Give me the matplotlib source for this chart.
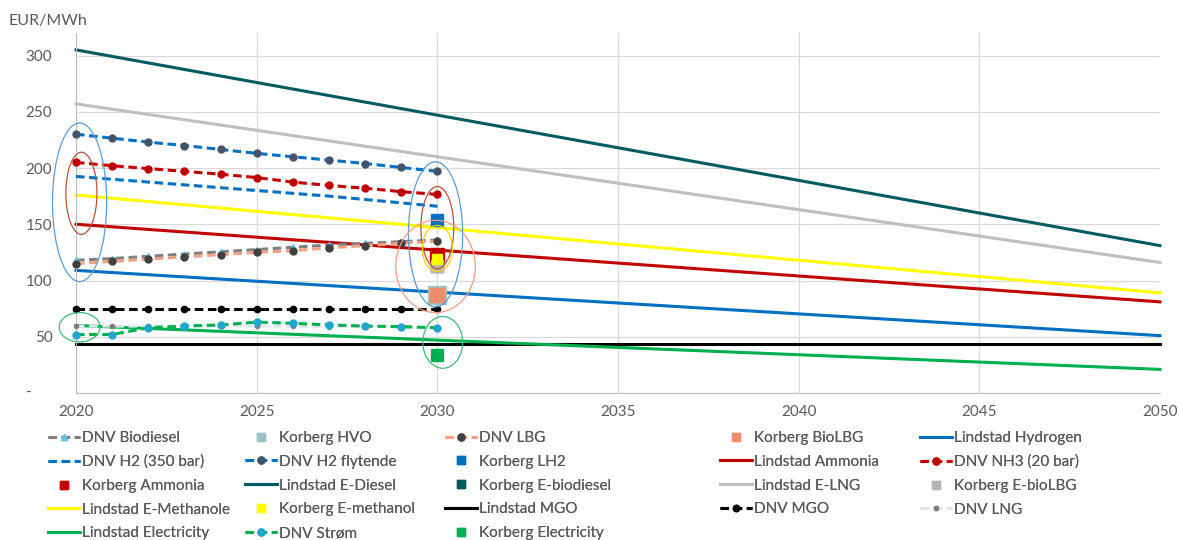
import matplotlib.pyplot as plt
from matplotlib.lines import Line2D
from matplotlib.patches import Ellipse

plt.rcParams['font.family'] = ['Lato', 'DejaVu Sans']

# DNV yearly series 2020-2030
dnv_years = [2020, 2021, 2022, 2023, 2024, 2025, 2026, 2027, 2028, 2029, 2030]
dnv_biodiesel = [118, 119.5, 121.5, 123.5, 125.5, 127.5, 129.5, 131.5, 133, 134.5, 136]
dnv_lbg = [115, 117, 119, 121, 123, 125, 126.5, 129, 131, 133, 135]
dnv_h2_350 = [192.5, 190, 187.5, 185, 182.5, 180, 177.5, 175, 172, 169, 166]
dnv_h2_fly = [230, 226.5, 223, 220, 216.5, 213, 210, 207, 204, 200.5, 197]
dnv_nh3 = [205, 202, 199.5, 197, 194.5, 191.5, 187.5, 184.5, 182, 179, 176.5]
dnv_mgo = [74.5, 74.5, 74.5, 74.5, 74.5, 74.5, 74.5, 74.5, 74.5, 74.5, 74.5]
dnv_lng = [59.5, 59.5, 59.5, 59.5, 59.5, 59.5, 59.5, 59, 59, 58.5, 58]
dnv_strom = [52, 52, 58, 59.5, 60.5, 63, 62, 60.5, 59.5, 59, 58]

# Lindstad trajectories 2020-2050
lind_years = [2020, 2050]
lind_hydrogen = [109, 51]
lind_ammonia = [150, 81]
lind_ediesel = [305, 131]
lind_elng = [257, 116]
lind_emethanole = [176, 89]
lind_mgo = [44, 44]
lind_electricity = [60, 21]

# Korberg single points in 2030
korb_year = 2030
korb_hvo = 87
korb_biolbg = 87
korb_lh2 = 154
korb_ammonia = 123
korb_ebiodiesel = 113
korb_ebiolbg = 113
korb_emethanol = 119.5
korb_electricity = 33.5

# hand drawn rings: (x, y, width, height, colour)
rings = [
    (2020.1, 169.5, 1.5, 141, '#5B9BD5'),
    (2020.15, 177.5, 0.86, 73, '#B5523B'),
    (2020.1, 58.5, 1.13, 26, '#3CB878'),
    (2029.95, 141, 1.5, 129, '#5B9BD5'),
    (2030.0, 147, 0.91, 73, '#B5523B'),
    (2029.95, 112.5, 2.2, 82, '#F19C82'),
    (2030.0, 128.5, 0.83, 41, '#F2D500'),
    (2030.15, 45, 1.1, 46, '#3CB878'),
]

TXT = '#595959'
FS = 11
fig = plt.figure(figsize=(11.79, 5.40), dpi=100)
ax = fig.add_axes([76 / 1179, 1 - 393 / 540, (1160 - 76) / 1179, (393 - 33) / 540])

H = {}
lw = 2.2
dash = (2.8, 1.5)


def dline(name, y, color, marker=None, mcolor=None, ms=5):
    h, = ax.plot(dnv_years, y, color=color, lw=lw, dashes=dash, marker=marker,
                 mfc=mcolor, mec=mcolor, ms=ms, clip_on=False, zorder=3)
    H[name] = h


def sline(name, y, color):
    h, = ax.plot(lind_years, y, color=color, lw=lw, clip_on=False, zorder=2)
    H[name] = h


def square(name, y, color, ms=9):
    ax.plot([korb_year], [y], ls='none', marker='s', ms=ms, color=color, zorder=5)
    H[name] = Line2D([], [], ls='none', marker='s', ms=6, color=color)


dline('DNV Biodiesel', dnv_biodiesel, '#7F7F7F', '^', '#5CC8E6', 4)
square('Korberg HVO', korb_hvo, '#9DC3C6', 12.5)
dline('DNV LBG', dnv_lbg, '#F4A084', 'o', '#404040', 5)
square('Korberg BioLBG', korb_biolbg, '#F08C6E', 10.5)
sline('Lindstad Hydrogen', lind_hydrogen, '#0070C0')
dline('DNV H2 (350 bar)', dnv_h2_350, '#0070C0')
dline('DNV H2 flytende', dnv_h2_fly, '#0070C0', 'o', '#44546A', 5)
square('Korberg LH2', korb_lh2, '#0070C0', 8.5)
sline('Lindstad Ammonia', lind_ammonia, '#C00000')
dline('DNV NH3 (20 bar)', dnv_nh3, '#C00000', 'o', '#C00000', 5)
square('Korberg Ammonia', korb_ammonia, '#C00000', 9.5)
sline('Lindstad E-Diesel', lind_ediesel, '#005A5E')
square('Korberg E-biodiesel', korb_ebiodiesel, '#005A5E', 8.5)
sline('Lindstad E-LNG', lind_elng, '#BFBFBF')
square('Korberg E-bioLBG', korb_ebiolbg, '#B4B4B4', 8.5)
sline('Lindstad E-Methanole', lind_emethanole, '#FFFF00')
square('Korberg E-methanol', korb_emethanol, '#FFFF00', 6.5)
sline('Lindstad MGO', lind_mgo, '#000000')
dline('DNV MGO', dnv_mgo, '#000000', 'o', '#000000', 4.5)
dline('DNV LNG', dnv_lng, '#DCE6EC', 'o', '#7F7F7F', 3)
sline('Lindstad Electricity', lind_electricity, '#00B050')
dline('DNV Strøm', dnv_strom, '#00B050', 'o', '#21A6CF', 5)
square('Korberg Electricity', korb_electricity, '#00B050', 8.5)

for x, y, w, h, c in rings:
    ax.add_patch(Ellipse((x, y), w, h, fill=False, ec=c, lw=0.9,
                         clip_on=False, zorder=6))

ax.set_xlim(2020, 2050)
ax.set_ylim(0, 320)
ax.set_xticks(range(2020, 2051, 5))
ax.set_yticks(range(0, 301, 50))
ax.set_yticklabels([''] + [str(v) for v in range(50, 301, 50)])
ax.text(-47 / 1084, 0, '-', transform=ax.get_yaxis_transform(), ha='center',
        va='center', color=TXT, fontsize=FS)
ax.tick_params(axis='both', length=0, labelcolor=TXT, labelsize=FS)
ax.tick_params(axis='y', pad=17)
ax.tick_params(axis='x', pad=9)
ax.grid(color='#D9D9D9', lw=0.9)
ax.set_axisbelow(True)
for s in ['top', 'right']:
    ax.spines[s].set_visible(False)
for s in ['left', 'bottom']:
    ax.spines[s].set_color('#BFBFBF')

fig.text(8 / 1179, 1 - 21 / 540, 'EUR/MWh', color=TXT, fontsize=FS + 0.5, va='center')

columns = [
    ['DNV Biodiesel', 'DNV H2 (350 bar)', 'Korberg Ammonia', 'Lindstad E-Methanole', 'Lindstad Electricity'],
    ['Korberg HVO', 'DNV H2 flytende', 'Lindstad E-Diesel', 'Korberg E-methanol', 'DNV Strøm'],
    ['DNV LBG', 'Korberg LH2', 'Korberg E-biodiesel', 'Lindstad MGO', 'Korberg Electricity'],
    ['Korberg BioLBG', 'Lindstad Ammonia', 'Lindstad E-LNG', 'DNV MGO'],
    ['Lindstad Hydrogen', 'DNV NH3 (20 bar)', 'Korberg E-bioLBG', 'DNV LNG'],
]
col_x = [48, 245, 445, 720, 920]
for cx, names in zip(col_x, columns):
    leg = fig.legend([H[n] for n in names], names, loc='upper left',
                     bbox_to_anchor=(cx / 1179, 1 - 431 / 540), frameon=False,
                     fontsize=FS, handlelength=2.1, handletextpad=0.13,
                     labelspacing=0.64, borderpad=0, borderaxespad=0, labelcolor=TXT)
    fig.add_artist(leg)

fig.savefig('out.png', dpi=100)
